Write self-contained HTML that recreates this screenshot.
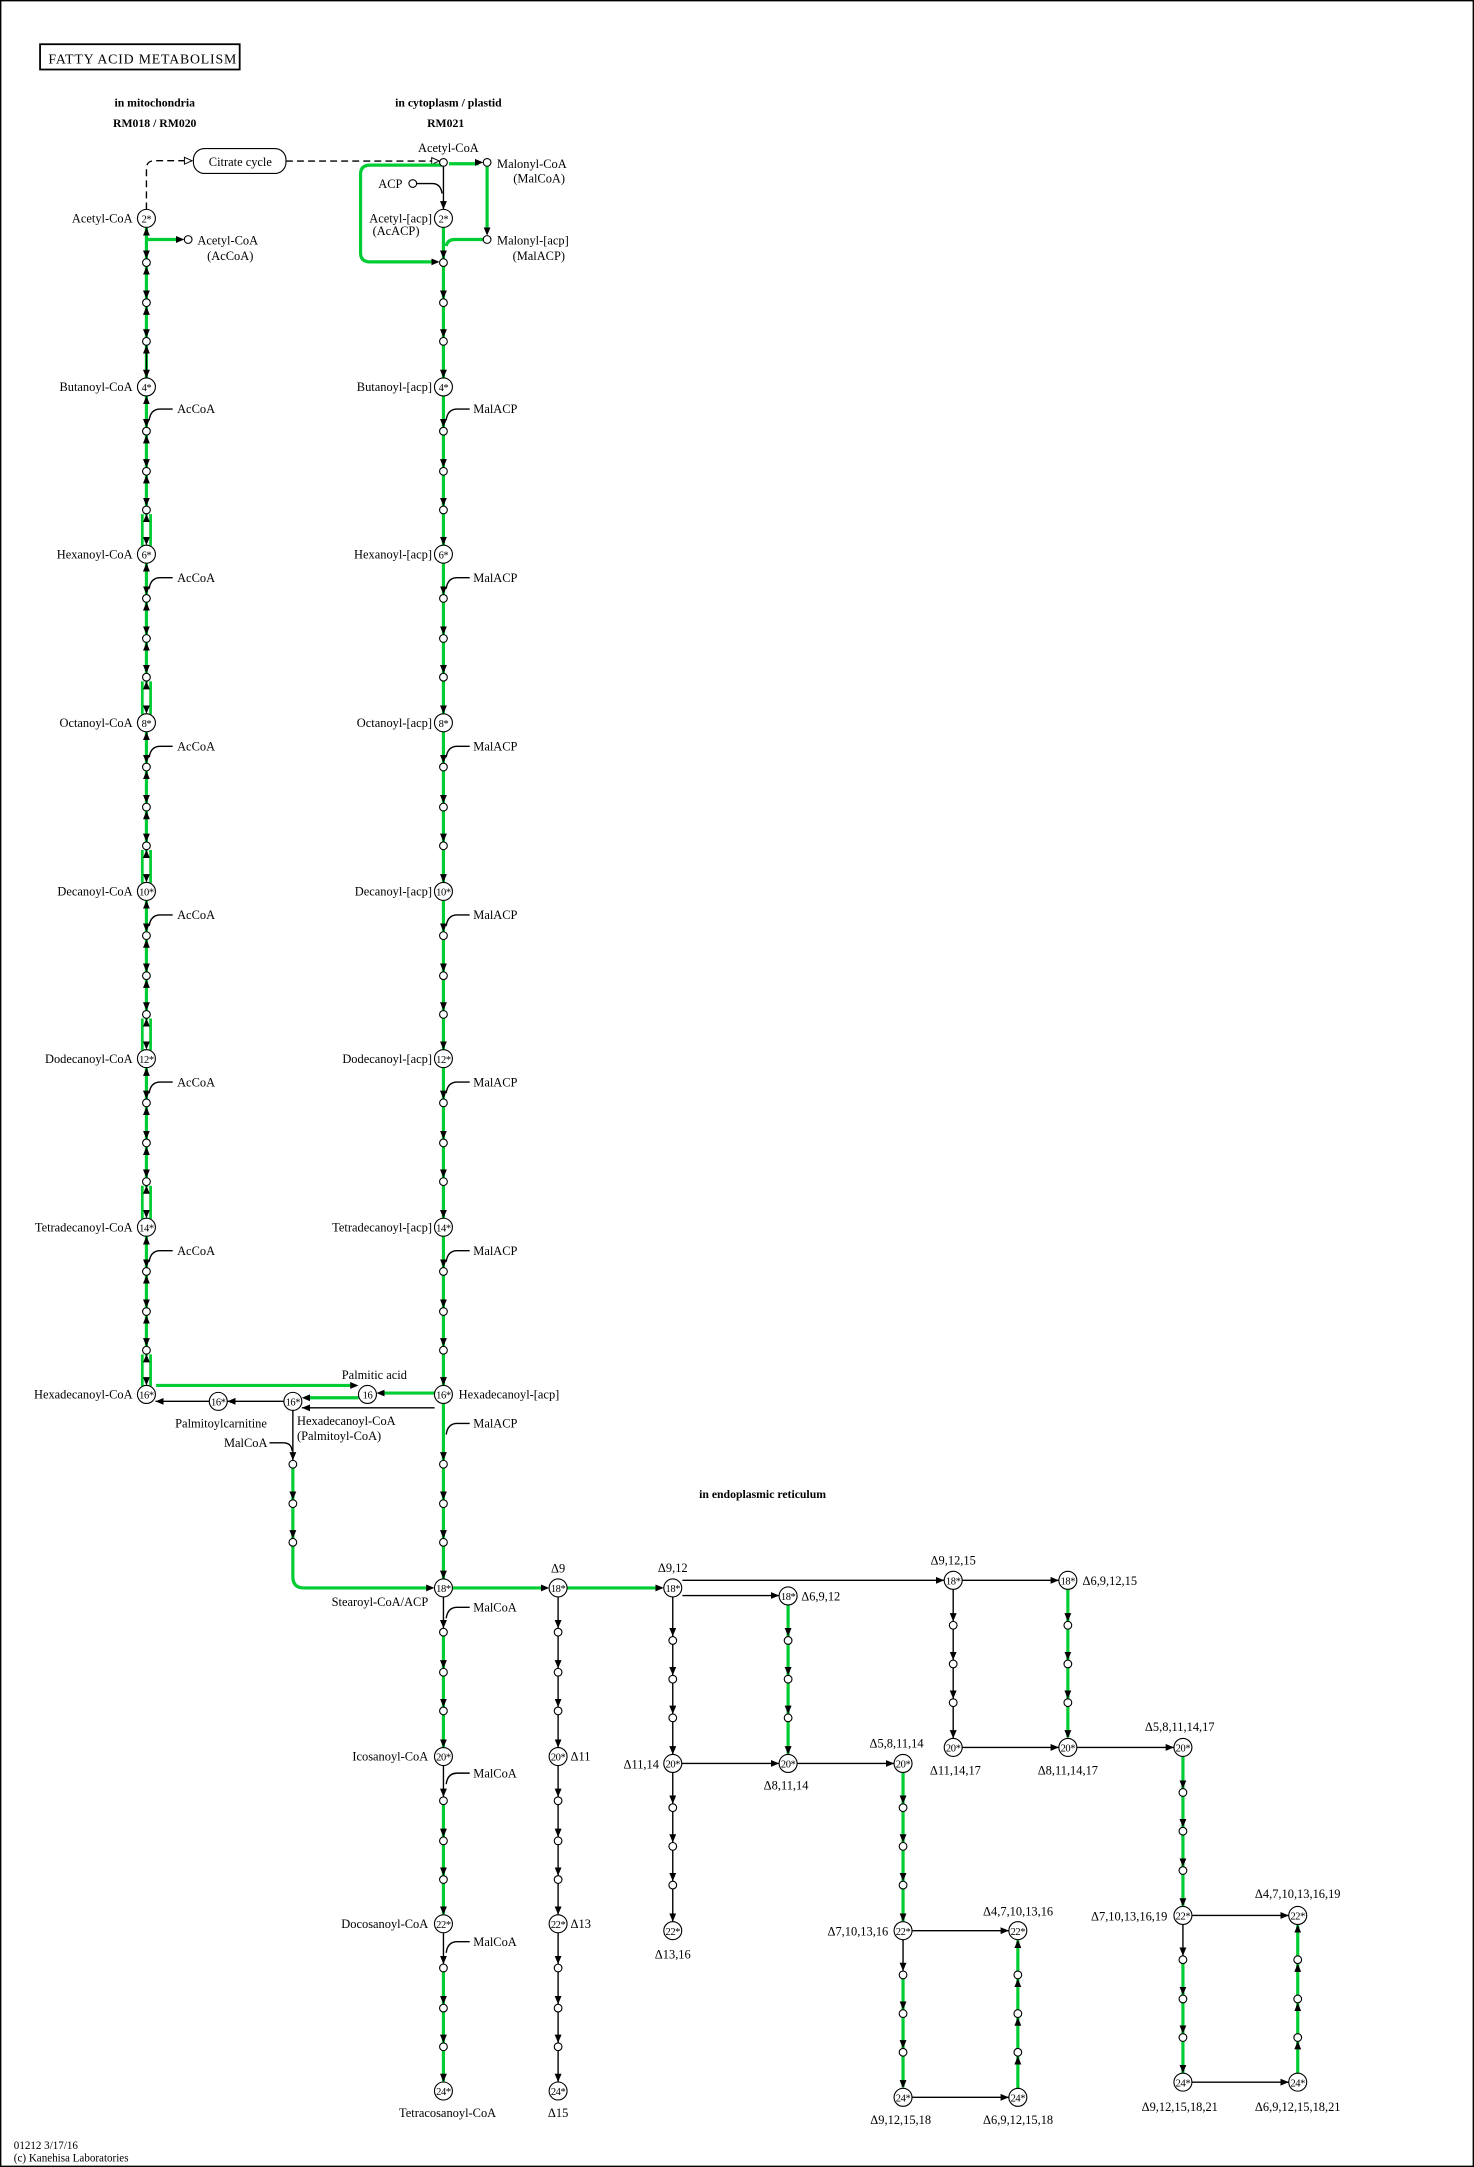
<!DOCTYPE html>
<html><head><meta charset="utf-8"><style>
html,body{margin:0;padding:0;background:#fff}
svg{display:block}
text{font-family:"Liberation Serif",serif;font-size:9px;fill:#000}
.b{font-weight:bold;font-size:8.5px}
.c{text-anchor:middle}
.e{text-anchor:end}
.nd text{font-size:7.6px;letter-spacing:-0.3px}
.g{stroke:#00cc33;stroke-width:2.3;fill:none}
.k{stroke:#000;stroke-width:1;fill:none}
.m{marker-mid:url(#a);marker-end:url(#a)}
.n{stroke:none;fill:none;marker-mid:url(#a);marker-end:url(#a)}
circle{fill:#fff;stroke:#000;stroke-width:0.8}
</style></head><body>
<svg width="1474" height="2167" viewBox="0 0 1067 1568" preserveAspectRatio="none">
<defs>
<marker id="a" markerWidth="6" markerHeight="6" refX="6" refY="2.5" orient="auto" markerUnits="userSpaceOnUse"><path d="M0,0 L6,2.5 L0,5z" fill="#000"/></marker>
<marker id="h" markerWidth="7" markerHeight="7" refX="6" refY="3" orient="auto" markerUnits="userSpaceOnUse"><path d="M0.5,0.5 L6,3 L0.5,5.5z" fill="#fff" stroke="#000" stroke-width="0.7"/></marker>
</defs>
<rect x="0.5" y="0.5" width="1066" height="1567" fill="#fff" stroke="#000" stroke-width="1"/>
<rect x="29" y="32" width="144.5" height="18.3" fill="none" stroke="#000" stroke-width="1.3"/>
<text x="35" y="46" style="font-size:10px;letter-spacing:0.6px">FATTY ACID METABOLISM</text>
<text class="b c" x="112" y="77">in mitochondria</text>
<text class="b c" x="112" y="92">RM018 / RM020</text>
<text class="b c" x="324.6" y="77">in cytoplasm / plastid</text>
<text class="b c" x="322.6" y="92">RM021</text>
<text class="b c" x="552" y="1084">in endoplasmic reticulum</text>

<!-- citrate cycle -->
<rect x="140" y="107.5" width="67" height="18" rx="8" fill="#fff" stroke="#000" stroke-width="0.8"/>
<text class="c" x="174" y="120">Citrate cycle</text>
<path class="k" d="M106,151.5 V122 Q106,116.3 112,116.3 H139" stroke-dasharray="5,3" marker-end="url(#h)"/>
<path class="k" d="M207,116.5 H318" stroke-dasharray="5,3" marker-end="url(#h)"/>

<!-- top cytoplasm -->
<path class="g" d="M325,118.5 H346.5 M321,119.5 H268 Q261,119.5 261,126 V183 Q261,189.5 268,189.5 H315 M352.6,120.5 V167 M349.8,173.3 H329 Q324,173.3 323,178"/>
<path class="n" d="M325,117.5 H349.8"/>
<path class="n" d="M261,189.5 H318.2"/>
<path class="n" d="M352.6,120.5 V170.5"/>
<path class="k" d="M321,120.5 V151.5" marker-end="url(#a)"/>
<path class="k" d="M301.6,132.8 H313 Q319,132.8 320,140"/>
<text x="324.6" y="110" class="c">Acetyl-CoA</text>
<text x="359.8" y="121.5">Malonyl-CoA</text>
<text x="409" y="132" class="e">(MalCoA)</text>
<text x="291.3" y="136" class="e">ACP</text>
<text x="312.7" y="161" class="e">Acetyl-[acp]</text>
<text x="269.7" y="170">(AcACP)</text>
<text x="359.8" y="177">Malonyl-[acp]</text>
<text x="409" y="188" class="e">(MalACP)</text>

<!-- left acetyl branch -->
<path class="g" d="M106,173.3 H130"/>
<path class="n" d="M106,173.3 H133.4"/>
<text x="142.9" y="177">Acetyl-CoA</text>
<text x="183.4" y="188" class="e">(AcCoA)</text>

<!-- left column -->
<path class="g" d="M106,164.5 V1002.5"/>
<path d="M106,373 V394 M106,494 V516 M106,616 V638 M106,738 V759 M106,859 V881 M106,981 V1002" stroke="#fff" stroke-width="2.6"/>
<path class="g" style="stroke-width:2" d="M103,372 V395 M109,372 V395 M103,493 V517 M109,493 V517 M103,615 V639 M109,615 V639 M103,737 V760 M109,737 V760 M103,858 V882 M109,858 V882 M103,980 V1003 M109,980 V1003"/>
<path class="k" d="M106,250 V273.5" stroke-width="1.3"/>
<path class="n" d="M106,164.5 L106,187.2 L106,216.2 L106,244.2 L106,273.5 L106,309.2 L106,338.2 L106,366.2 L106,394.5 L106,430.2 L106,459.2 L106,487.2 L106,516.5 L106,552.2 L106,581.2 L106,609.2 L106,638.5 L106,674.2 L106,703.2 L106,731.2 L106,759.5 L106,795.2 L106,824.2 L106,852.2 L106,881.5 L106,917.2 L106,946.2 L106,974.2 L106,1002.5"/>
<path class="n" d="M106,1002.5 L106,979.8 L106,951.8 L106,922.8 L106,894.5 L106,857.8 L106,829.8 L106,800.8 L106,772.5 L106,736.8 L106,708.8 L106,679.8 L106,651.5 L106,614.8 L106,586.8 L106,557.8 L106,529.5 L106,492.8 L106,464.8 L106,435.8 L106,407.5 L106,371.8 L106,343.8 L106,314.8 L106,286.5 L106,249.8 L106,221.8 L106,192.8 L106,164.5"/>

<!-- right column -->
<path class="g" d="M321,164.5 V1142.5"/>
<path class="n" d="M321,164.5 L321,187.2 L321,216.2 L321,244.2 L321,273.5 L321,309.2 L321,338.2 L321,366.2 L321,394.5 L321,430.2 L321,459.2 L321,487.2 L321,516.5 L321,552.2 L321,581.2 L321,609.2 L321,638.5 L321,674.2 L321,703.2 L321,731.2 L321,759.5 L321,795.2 L321,824.2 L321,852.2 L321,881.5 L321,917.2 L321,946.2 L321,974.2 L321,1002.5 L321,1056.7 L321,1085.2 L321,1113.2 L321,1142.5"/>

<!-- side labels AcCoA / MalACP -->
<path class="k" d="M108,304 Q109,296 116,296 H125 M108,426 Q109,418 116,418 H125 M108,548 Q109,540 116,540 H125 M108,670 Q109,662 116,662 H125 M108,791 Q109,783 116,783 H125 M108,913 Q109,905 116,905 H125"/>
<text x="128.2" y="299">AcCoA</text><text x="128.2" y="421">AcCoA</text><text x="128.2" y="543">AcCoA</text><text x="128.2" y="665">AcCoA</text><text x="128.2" y="786">AcCoA</text><text x="128.2" y="908">AcCoA</text>
<path class="k" d="M323,304 Q324,296 331,296 H340 M323,426 Q324,418 331,418 H340 M323,548 Q324,540 331,540 H340 M323,670 Q324,662 331,662 H340 M323,791 Q324,783 331,783 H340 M323,913 Q324,905 331,905 H340 M323,1038 Q324,1030 331,1030 H340 M323,1171 Q324,1163 331,1163 H340 M323,1291 Q324,1283 331,1283 H340 M323,1413 Q324,1405 331,1405 H340"/>
<text x="342.6" y="299">MalACP</text><text x="342.6" y="421">MalACP</text><text x="342.6" y="543">MalACP</text><text x="342.6" y="665">MalACP</text><text x="342.6" y="786">MalACP</text><text x="342.6" y="908">MalACP</text><text x="342.6" y="1033">MalACP</text>
<text x="342.6" y="1166">MalCoA</text><text x="342.6" y="1286">MalCoA</text><text x="342.6" y="1408">MalCoA</text>

<!-- 16 area -->
<path class="g" d="M113,1002.5 H256 M314.5,1008 H275 M259.5,1011.4 H221 M212,1062 V1141 Q212,1149 220,1149 H311"/>
<path class="n" d="M113,1002.5 H259.5"/>
<path class="n" d="M314.5,1008 H272.5"/>
<path class="n" d="M259.5,1011.4 H218.5"/>
<path class="n" d="M212,1062 L212,1085.2 L212,1113.2"/>
<path class="n" d="M220,1149 H314.5"/>
<path class="k" d="M314.6,1018.7 H218.5" marker-end="url(#a)"/>
<path class="k" d="M205.5,1014 H164.5" marker-end="url(#a)"/>
<path class="k" d="M151.5,1014 H112.5" marker-end="url(#a)"/>
<path class="k" d="M212,1020.5 V1056.7" marker-end="url(#a)"/>
<path class="k" d="M195,1044 H205 Q211,1044 211.5,1050"/>
<text x="271" y="998" class="c">Palmitic acid</text>
<text x="160" y="1033" class="c">Palmitoylcarnitine</text>
<text x="215" y="1031">Hexadecanoyl-CoA</text>
<text x="215" y="1042">(Palmitoyl-CoA)</text>
<text x="193.6" y="1047" class="e">MalCoA</text>
<text x="310" y="1162" class="e">Stearoyl-CoA/ACP</text>

<!-- post-18 right column -->
<path class="g" d="M321,1178 V1264 M321,1300 V1385 M321,1421 V1506"/>
<path class="k" d="M321,1155.5 V1178 M321,1277.5 V1300 M321,1398.5 V1421"/>
<path class="n" d="M321,1155.5 L321,1178.2 L321,1207.2 L321,1235.2 L321,1264.5 L321,1300.2 L321,1329.2 L321,1357.2 L321,1385.5 L321,1421.2 L321,1450.2 L321,1478.2 L321,1506.5"/>
<path class="g" d="M327.5,1149 H394 M410.5,1149 H477"/>
<path class="n" d="M327.5,1149 H397.5"/>
<path class="n" d="M410.5,1149 H480.5"/>
<!-- delta9 column -->
<path class="k m" d="M404,1155.5 L404,1178.2 L404,1207.2 L404,1235.2 L404,1264.5 L404,1300.2 L404,1329.2 L404,1357.2 L404,1385.5 L404,1421.2 L404,1450.2 L404,1478.2 L404,1506.5"/>
<text x="404" y="1138" class="c">Δ9</text>
<text x="413" y="1274">Δ11</text>
<text x="413" y="1395">Δ13</text>
<text x="404" y="1532" class="c">Δ15</text>
<text x="310" y="1274" class="e">Icosanoyl-CoA</text>
<text x="310" y="1395" class="e">Docosanoyl-CoA</text>
<text x="324" y="1532" class="c">Tetracosanoyl-CoA</text>

<!-- ER right part -->
<path class="k m" d="M487,1155.5 L487,1184 L487,1212.2 L487,1240.2 L487,1269.5"/>
<path class="k m" d="M487,1282.5 L487,1305.2 L487,1333.2 L487,1361.2 L487,1390.5"/>
<path class="g" d="M570.5,1161.3 V1269"/>
<path class="n" d="M570.5,1161.3 L570.5,1184 L570.5,1212.2 L570.5,1240.2 L570.5,1269.5"/>
<path class="k m" d="M690,1150 L690,1173.2 L690,1201.2 L690,1229.2 L690,1257.9"/>
<path class="g" d="M773,1150 V1257"/>
<path class="n" d="M773,1150 L773,1173.2 L773,1201.2 L773,1229.2 L773,1257.9"/>
<path class="g" d="M653.7,1282.5 V1390 M653.7,1427 V1510"/>
<path class="k" d="M653.7,1403.5 V1426"/>
<path class="n" d="M653.7,1282.5 L653.7,1305.2 L653.7,1333.2 L653.7,1361.2 L653.7,1390.5"/>
<path class="n" d="M653.7,1403.5 L653.7,1426.2 L653.7,1454.2 L653.7,1482.2 L653.7,1511.1"/>
<path class="g" d="M736.8,1511.1 V1404"/>
<path class="n" d="M736.8,1511.1 L736.8,1487.8 L736.8,1459.8 L736.8,1431.8 L736.8,1403.5"/>
<path class="g" d="M856.3,1271 V1379 M856.3,1416 V1500"/>
<path class="k" d="M856.3,1392.5 V1415"/>
<path class="n" d="M856.3,1271 L856.3,1294.2 L856.3,1322.2 L856.3,1350.7 L856.3,1379.5"/>
<path class="n" d="M856.3,1392.5 L856.3,1415.2 L856.3,1443.6 L856.3,1471.5 L856.3,1500.1"/>
<path class="g" d="M939.4,1500.1 V1393"/>
<path class="n" d="M939.4,1500.1 L939.4,1476.9 L939.4,1449.2 L939.4,1420.8 L939.4,1392.5"/>
<path class="k" d="M494,1143.5 H683.5 M494,1154.5 H564 M696.5,1143.5 H766.5 M493.5,1276 H564 M577,1276 H647.2 M696.5,1264.4 H766.5 M779.5,1264.4 H849.8 M660.2,1397 H730.3 M660.2,1517.6 H730.3 M862.8,1386 H932.9 M862.8,1506.6 H932.9"/>
<path class="n" d="M494,1143.5 H683.5"/><path class="n" d="M494,1154.5 H564"/><path class="n" d="M696.5,1143.5 H766.5"/><path class="n" d="M493.5,1276 H564"/><path class="n" d="M577,1276 H647.2"/><path class="n" d="M696.5,1264.4 H766.5"/><path class="n" d="M779.5,1264.4 H849.8"/><path class="n" d="M660.2,1397 H730.3"/><path class="n" d="M660.2,1517.6 H730.3"/><path class="n" d="M862.8,1386 H932.9"/><path class="n" d="M862.8,1506.6 H932.9"/>

<text x="487" y="1137.5" class="c">Δ9,12</text>
<text x="580" y="1158">Δ6,9,12</text>
<text x="690" y="1132" class="c">Δ9,12,15</text>
<text x="783.6" y="1147">Δ6,9,12,15</text>
<text x="477" y="1279.5" class="e">Δ11,14</text>
<text x="569" y="1295" class="c">Δ8,11,14</text>
<text x="649" y="1264.5" class="c">Δ5,8,11,14</text>
<text x="691.6" y="1284" class="c">Δ11,14,17</text>
<text x="773" y="1284" class="c">Δ8,11,14,17</text>
<text x="854" y="1252.5" class="c">Δ5,8,11,14,17</text>
<text x="487" y="1417" class="c">Δ13,16</text>
<text x="643" y="1400.5" class="e">Δ7,10,13,16</text>
<text x="737" y="1386" class="c">Δ4,7,10,13,16</text>
<text x="845" y="1389.5" class="e">Δ7,10,13,16,19</text>
<text x="939.4" y="1373.5" class="c">Δ4,7,10,13,16,19</text>
<text x="652" y="1537" class="c">Δ9,12,15,18</text>
<text x="737" y="1537" class="c">Δ6,9,12,15,18</text>
<text x="854" y="1527.5" class="c">Δ9,12,15,18,21</text>
<text x="939.4" y="1527.5" class="c">Δ6,9,12,15,18,21</text>

<!-- small circles -->
<g>
<circle cx="321" cy="117.5" r="2.8"/><circle cx="352.6" cy="117.5" r="2.8"/><circle cx="352.6" cy="173.3" r="2.8"/><circle cx="298.8" cy="132.8" r="2.8"/><circle cx="136.2" cy="173.3" r="2.8"/>
<circle cx="106" cy="190" r="2.8"/><circle cx="106" cy="219" r="2.8"/><circle cx="106" cy="247" r="2.8"/><circle cx="106" cy="312" r="2.8"/><circle cx="106" cy="341" r="2.8"/><circle cx="106" cy="369" r="2.8"/><circle cx="106" cy="433" r="2.8"/><circle cx="106" cy="462" r="2.8"/><circle cx="106" cy="490" r="2.8"/><circle cx="106" cy="555" r="2.8"/><circle cx="106" cy="584" r="2.8"/><circle cx="106" cy="612" r="2.8"/><circle cx="106" cy="677" r="2.8"/><circle cx="106" cy="706" r="2.8"/><circle cx="106" cy="734" r="2.8"/><circle cx="106" cy="798" r="2.8"/><circle cx="106" cy="827" r="2.8"/><circle cx="106" cy="855" r="2.8"/><circle cx="106" cy="920" r="2.8"/><circle cx="106" cy="949" r="2.8"/><circle cx="106" cy="977" r="2.8"/>
<circle cx="321" cy="190" r="2.8"/><circle cx="321" cy="219" r="2.8"/><circle cx="321" cy="247" r="2.8"/><circle cx="321" cy="312" r="2.8"/><circle cx="321" cy="341" r="2.8"/><circle cx="321" cy="369" r="2.8"/><circle cx="321" cy="433" r="2.8"/><circle cx="321" cy="462" r="2.8"/><circle cx="321" cy="490" r="2.8"/><circle cx="321" cy="555" r="2.8"/><circle cx="321" cy="584" r="2.8"/><circle cx="321" cy="612" r="2.8"/><circle cx="321" cy="677" r="2.8"/><circle cx="321" cy="706" r="2.8"/><circle cx="321" cy="734" r="2.8"/><circle cx="321" cy="798" r="2.8"/><circle cx="321" cy="827" r="2.8"/><circle cx="321" cy="855" r="2.8"/><circle cx="321" cy="920" r="2.8"/><circle cx="321" cy="949" r="2.8"/><circle cx="321" cy="977" r="2.8"/>
<circle cx="321" cy="1059.5" r="2.8"/><circle cx="321" cy="1088" r="2.8"/><circle cx="321" cy="1116" r="2.8"/>
<circle cx="212" cy="1059.5" r="2.8"/><circle cx="212" cy="1088" r="2.8"/><circle cx="212" cy="1116" r="2.8"/>
<circle cx="321" cy="1181" r="2.8"/><circle cx="321" cy="1210" r="2.8"/><circle cx="321" cy="1238" r="2.8"/><circle cx="321" cy="1303" r="2.8"/><circle cx="321" cy="1332" r="2.8"/><circle cx="321" cy="1360" r="2.8"/><circle cx="321" cy="1424" r="2.8"/><circle cx="321" cy="1453" r="2.8"/><circle cx="321" cy="1481" r="2.8"/>
<circle cx="404" cy="1181" r="2.8"/><circle cx="404" cy="1210" r="2.8"/><circle cx="404" cy="1238" r="2.8"/><circle cx="404" cy="1303" r="2.8"/><circle cx="404" cy="1332" r="2.8"/><circle cx="404" cy="1360" r="2.8"/><circle cx="404" cy="1424" r="2.8"/><circle cx="404" cy="1453" r="2.8"/><circle cx="404" cy="1481" r="2.8"/>
<circle cx="487" cy="1187" r="2.8"/><circle cx="487" cy="1215" r="2.8"/><circle cx="487" cy="1243" r="2.8"/><circle cx="487" cy="1308" r="2.8"/><circle cx="487" cy="1336" r="2.8"/><circle cx="487" cy="1364" r="2.8"/>
<circle cx="570.5" cy="1187" r="2.8"/><circle cx="570.5" cy="1215" r="2.8"/><circle cx="570.5" cy="1243" r="2.8"/>
<circle cx="690" cy="1176" r="2.8"/><circle cx="690" cy="1204" r="2.8"/><circle cx="690" cy="1232" r="2.8"/>
<circle cx="773" cy="1176" r="2.8"/><circle cx="773" cy="1204" r="2.8"/><circle cx="773" cy="1232" r="2.8"/>
<circle cx="653.7" cy="1308" r="2.8"/><circle cx="653.7" cy="1336" r="2.8"/><circle cx="653.7" cy="1364" r="2.8"/><circle cx="653.7" cy="1429" r="2.8"/><circle cx="653.7" cy="1457" r="2.8"/><circle cx="653.7" cy="1485" r="2.8"/>
<circle cx="736.8" cy="1429" r="2.8"/><circle cx="736.8" cy="1457" r="2.8"/><circle cx="736.8" cy="1485" r="2.8"/>
<circle cx="856.3" cy="1297" r="2.8"/><circle cx="856.3" cy="1325" r="2.8"/><circle cx="856.3" cy="1353.5" r="2.8"/><circle cx="856.3" cy="1418" r="2.8"/><circle cx="856.3" cy="1446.4" r="2.8"/><circle cx="856.3" cy="1474.3" r="2.8"/>
<circle cx="939.4" cy="1418" r="2.8"/><circle cx="939.4" cy="1446.4" r="2.8"/><circle cx="939.4" cy="1474.3" r="2.8"/>
</g>

<!-- big nodes -->
<g class="nd">
<circle cx="106" cy="158" r="6.5"/><text class="c" x="106" y="161">2*</text>
<circle cx="106" cy="280" r="6.5"/><text class="c" x="106" y="283">4*</text>
<circle cx="106" cy="401" r="6.5"/><text class="c" x="106" y="404">6*</text>
<circle cx="106" cy="523" r="6.5"/><text class="c" x="106" y="526">8*</text>
<circle cx="106" cy="645" r="6.5"/><text class="c" x="106" y="648">10*</text>
<circle cx="106" cy="766" r="6.5"/><text class="c" x="106" y="769">12*</text>
<circle cx="106" cy="888" r="6.5"/><text class="c" x="106" y="891">14*</text>
<circle cx="106" cy="1009" r="6.5"/><text class="c" x="106" y="1012">16*</text>
<circle cx="321" cy="158" r="6.5"/><text class="c" x="321" y="161">2*</text>
<circle cx="321" cy="280" r="6.5"/><text class="c" x="321" y="283">4*</text>
<circle cx="321" cy="401" r="6.5"/><text class="c" x="321" y="404">6*</text>
<circle cx="321" cy="523" r="6.5"/><text class="c" x="321" y="526">8*</text>
<circle cx="321" cy="645" r="6.5"/><text class="c" x="321" y="648">10*</text>
<circle cx="321" cy="766" r="6.5"/><text class="c" x="321" y="769">12*</text>
<circle cx="321" cy="888" r="6.5"/><text class="c" x="321" y="891">14*</text>
<circle cx="321" cy="1009" r="6.5"/><text class="c" x="321" y="1012">16*</text>
<circle cx="266" cy="1009" r="6.5"/><text class="c" x="266" y="1012">16</text>
<circle cx="212" cy="1014" r="6.5"/><text class="c" x="212" y="1017">16*</text>
<circle cx="158" cy="1014" r="6.5"/><text class="c" x="158" y="1017">16*</text>
<circle cx="321" cy="1149" r="6.5"/><text class="c" x="321" y="1152">18*</text>
<circle cx="321" cy="1271" r="6.5"/><text class="c" x="321" y="1274">20*</text>
<circle cx="321" cy="1392" r="6.5"/><text class="c" x="321" y="1395">22*</text>
<circle cx="321" cy="1513" r="6.5"/><text class="c" x="321" y="1516">24*</text>
<circle cx="404" cy="1149" r="6.5"/><text class="c" x="404" y="1152">18*</text>
<circle cx="404" cy="1271" r="6.5"/><text class="c" x="404" y="1274">20*</text>
<circle cx="404" cy="1392" r="6.5"/><text class="c" x="404" y="1395">22*</text>
<circle cx="404" cy="1513" r="6.5"/><text class="c" x="404" y="1516">24*</text>
<circle cx="487" cy="1149" r="6.5"/><text class="c" x="487" y="1152">18*</text>
<circle cx="570.5" cy="1154.8" r="6.5"/><text class="c" x="570.5" y="1157.8">18*</text>
<circle cx="690" cy="1143.5" r="6.5"/><text class="c" x="690" y="1146.5">18*</text>
<circle cx="773" cy="1143.5" r="6.5"/><text class="c" x="773" y="1146.5">18*</text>
<circle cx="487" cy="1276" r="6.5"/><text class="c" x="487" y="1279">20*</text>
<circle cx="570.5" cy="1276" r="6.5"/><text class="c" x="570.5" y="1279">20*</text>
<circle cx="653.7" cy="1276" r="6.5"/><text class="c" x="653.7" y="1279">20*</text>
<circle cx="690" cy="1264.4" r="6.5"/><text class="c" x="690" y="1267.4">20*</text>
<circle cx="773" cy="1264.4" r="6.5"/><text class="c" x="773" y="1267.4">20*</text>
<circle cx="856.3" cy="1264.4" r="6.5"/><text class="c" x="856.3" y="1267.4">20*</text>
<circle cx="487" cy="1397" r="6.5"/><text class="c" x="487" y="1400">22*</text>
<circle cx="653.7" cy="1397" r="6.5"/><text class="c" x="653.7" y="1400">22*</text>
<circle cx="736.8" cy="1397" r="6.5"/><text class="c" x="736.8" y="1400">22*</text>
<circle cx="856.3" cy="1386" r="6.5"/><text class="c" x="856.3" y="1389">22*</text>
<circle cx="939.4" cy="1386" r="6.5"/><text class="c" x="939.4" y="1389">22*</text>
<circle cx="653.7" cy="1517.6" r="6.5"/><text class="c" x="653.7" y="1520.6">24*</text>
<circle cx="736.8" cy="1517.6" r="6.5"/><text class="c" x="736.8" y="1520.6">24*</text>
<circle cx="856.3" cy="1506.6" r="6.5"/><text class="c" x="856.3" y="1509.6">24*</text>
<circle cx="939.4" cy="1506.6" r="6.5"/><text class="c" x="939.4" y="1509.6">24*</text>
</g>

<!-- node labels -->
<text class="e" x="96" y="161">Acetyl-CoA</text>
<text class="e" x="96" y="283">Butanoyl-CoA</text>
<text class="e" x="96" y="404">Hexanoyl-CoA</text>
<text class="e" x="96" y="526">Octanoyl-CoA</text>
<text class="e" x="96" y="648">Decanoyl-CoA</text>
<text class="e" x="96" y="769">Dodecanoyl-CoA</text>
<text class="e" x="96" y="891">Tetradecanoyl-CoA</text>
<text class="e" x="96" y="1012">Hexadecanoyl-CoA</text>
<text class="e" x="312.7" y="283">Butanoyl-[acp]</text>
<text class="e" x="312.7" y="404">Hexanoyl-[acp]</text>
<text class="e" x="312.7" y="526">Octanoyl-[acp]</text>
<text class="e" x="312.7" y="648">Decanoyl-[acp]</text>
<text class="e" x="312.7" y="769">Dodecanoyl-[acp]</text>
<text class="e" x="312.7" y="891">Tetradecanoyl-[acp]</text>
<text x="332" y="1012">Hexadecanoyl-[acp]</text>

<text x="10" y="1555" style="font-size:8px">01212 3/17/16</text>
<text x="10" y="1564" style="font-size:8px">(c) Kanehisa Laboratories</text>
</svg>
</body></html>
